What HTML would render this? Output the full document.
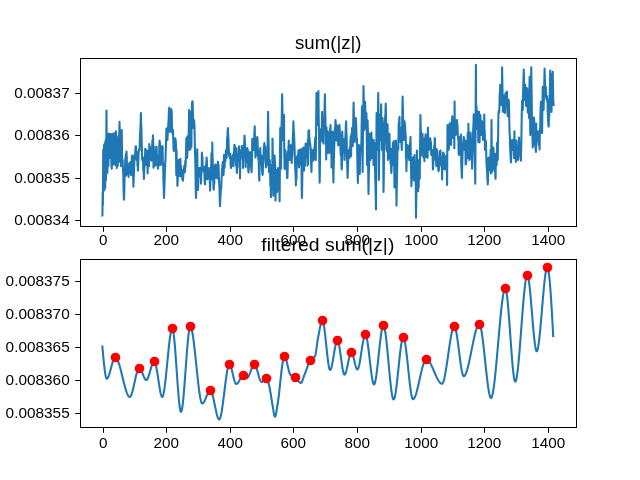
<!DOCTYPE html><html><head><meta charset="utf-8"><title>plot</title><style>
html,body{margin:0;padding:0;background:#fff;}
body{width:640px;height:480px;position:relative;overflow:hidden;font-family:"Liberation Sans",sans-serif;color:#000;}
</style></head><body>
<svg width="640" height="480" viewBox="0 0 640 480" style="position:absolute;left:0;top:0">
<rect x="0" y="0" width="640" height="480" fill="#fff"/>
<defs><clipPath id="c1"><rect x="80.5" y="58.5" width="496" height="168"/></clipPath><clipPath id="c2"><rect x="80.5" y="259.5" width="496" height="168"/></clipPath></defs>
<polyline clip-path="url(#c1)" fill="none" stroke="#1f77b4" stroke-width="2.08" stroke-linejoin="round" stroke-linecap="butt" points="102.40,216.50 102.70,192.00 102.90,205.00 103.20,150.00 103.40,175.57 103.60,191.00 103.80,166.60 104.00,145.00 104.20,167.60 104.40,190.00 104.60,167.72 104.80,143.00 105.00,163.13 105.20,188.00 105.40,164.01 105.60,140.00 105.80,160.00 106.00,180.00 106.25,140.04 106.50,110.60 106.70,143.35 106.90,170.00 107.15,173.05 107.40,172.50 107.65,151.37 107.90,134.00 108.15,149.49 108.40,166.00 108.65,151.27 108.90,133.50 109.15,144.97 109.40,158.00 109.65,145.27 109.90,134.00 110.15,141.14 110.40,157.00 110.65,147.16 110.90,134.00 111.15,149.37 111.40,164.00 111.58,167.20 111.75,168.75 111.97,146.80 112.20,134.00 112.45,154.45 112.70,165.00 112.95,149.71 113.20,133.50 113.45,147.59 113.70,164.00 113.95,155.09 114.20,134.00 114.40,144.86 114.60,156.00 114.80,140.15 115.00,133.00 115.25,147.78 115.50,165.00 115.70,141.26 115.90,131.25 116.15,148.77 116.40,160.00 116.58,162.80 116.75,168.10 116.97,150.82 117.20,138.00 117.45,155.22 117.70,166.00 117.95,146.05 118.20,136.00 118.45,150.61 118.70,162.00 118.97,142.44 119.23,133.28 119.50,121.90 119.75,132.34 120.00,150.00 120.20,146.39 120.40,134.00 120.65,155.30 120.90,166.00 121.10,147.51 121.30,131.00 121.53,132.00 121.75,130.00 121.97,147.46 122.20,166.00 122.40,164.70 122.60,160.00 122.86,166.26 123.12,170.77 123.38,178.44 123.64,192.66 123.90,199.75 124.16,196.86 124.42,184.66 124.68,174.33 124.94,172.25 125.20,160.00 125.46,158.83 125.72,156.20 125.98,153.97 126.24,175.44 126.50,151.50 126.80,158.72 127.10,170.08 127.40,174.00 127.70,164.94 128.00,165.00 128.30,170.65 128.60,176.90 128.83,165.50 129.07,164.81 129.30,163.00 129.53,166.64 129.77,172.40 130.00,172.00 130.30,172.10 130.60,162.00 130.85,173.01 131.10,175.00 131.33,168.70 131.57,163.09 131.80,158.00 132.10,155.50 132.40,156.50 132.65,165.13 132.90,165.71 133.15,176.87 133.40,186.80 133.68,178.09 133.95,174.79 134.22,164.98 134.50,155.00 134.78,154.52 135.06,158.41 135.34,149.94 135.62,146.49 135.90,146.25 136.13,152.92 136.37,154.48 136.60,160.00 136.90,152.46 137.20,152.00 137.47,165.64 137.73,164.51 138.00,170.60 138.27,162.51 138.53,155.20 138.80,151.00 139.07,149.07 139.33,149.54 139.60,150.00 139.86,139.55 140.12,134.38 140.38,128.76 140.64,122.86 140.90,113.10 141.16,123.75 141.42,128.16 141.68,141.79 141.94,150.67 142.20,160.00 142.47,158.05 142.73,157.00 143.00,158.00 143.30,170.24 143.60,170.83 143.90,179.00 144.17,171.05 144.44,166.67 144.71,163.19 144.98,156.97 145.25,148.75 145.51,152.70 145.78,149.53 146.04,161.66 146.30,165.00 146.60,161.12 146.90,160.00 147.13,154.58 147.37,150.81 147.60,173.40 147.88,164.50 148.15,164.72 148.43,151.04 148.70,154.95 148.97,166.29 149.25,144.00 149.57,146.85 149.88,156.47 150.20,155.00 150.50,157.54 150.80,155.86 151.10,160.00 151.42,160.65 151.73,147.13 152.05,149.98 152.37,140.81 152.68,140.34 153.00,135.40 153.25,145.04 153.50,167.76 153.75,146.28 154.00,155.00 154.30,156.24 154.60,152.17 154.90,165.00 155.17,163.11 155.43,165.81 155.70,152.93 155.97,152.27 156.23,146.87 156.50,146.50 156.80,152.45 157.10,164.37 157.40,160.20 157.70,160.13 158.00,168.75 158.27,164.79 158.53,165.74 158.80,155.50 159.07,162.84 159.33,143.76 159.60,140.60 159.90,143.00 160.20,162.82 160.50,165.00 160.75,164.12 161.00,154.95 161.25,160.09 161.50,155.00 161.78,148.10 162.05,146.68 162.32,146.00 162.60,147.00 162.88,165.67 163.16,163.24 163.44,181.01 163.72,187.53 164.00,197.90 164.30,190.77 164.60,180.45 164.90,171.45 165.20,164.57 165.50,158.71 165.80,150.00 166.10,139.36 166.40,128.50 166.63,129.50 166.87,129.50 167.10,128.10 167.30,131.60 167.50,140.00 167.77,132.30 168.03,130.16 168.30,125.00 168.62,119.22 168.93,110.64 169.25,107.50 169.47,114.87 169.68,122.77 169.90,132.00 170.15,126.42 170.40,122.00 170.68,118.97 170.95,118.41 171.22,109.00 171.50,110.00 171.77,113.18 172.03,130.17 172.30,133.00 172.53,132.28 172.77,131.25 173.00,130.00 173.30,141.17 173.60,150.00 173.85,151.00 174.10,149.13 174.35,149.00 174.60,150.00 174.90,150.26 175.20,138.40 175.50,139.40 175.75,140.77 176.00,146.62 176.25,175.06 176.50,150.00 176.80,168.49 177.10,162.66 177.40,186.00 177.70,181.24 178.00,172.04 178.30,175.45 178.60,160.00 178.87,176.19 179.13,172.83 179.40,175.00 179.65,165.54 179.90,173.29 180.15,162.34 180.40,158.75 180.68,176.45 180.95,165.86 181.22,174.29 181.50,172.00 181.78,169.28 182.06,171.86 182.34,179.27 182.62,177.54 182.90,180.60 183.16,178.80 183.42,172.59 183.68,173.65 183.94,171.03 184.20,166.00 184.47,166.29 184.73,168.72 185.00,172.00 185.27,161.08 185.53,166.71 185.80,160.00 186.07,150.74 186.33,138.63 186.60,137.50 186.90,142.44 187.20,158.00 187.50,146.33 187.80,136.00 188.10,145.28 188.40,150.00 188.63,136.22 188.87,123.07 189.10,110.00 189.33,129.89 189.57,139.18 189.80,148.00 190.03,133.15 190.27,149.62 190.50,112.00 190.73,123.51 190.97,139.07 191.20,130.00 191.40,147.23 191.60,112.00 191.85,109.33 192.10,101.86 192.35,104.60 192.60,101.25 192.87,112.96 193.13,118.64 193.40,128.00 193.63,125.12 193.87,126.85 194.10,120.00 194.32,123.25 194.53,129.51 194.75,141.00 195.06,153.56 195.38,165.86 195.69,187.11 196.00,197.90 196.31,186.56 196.62,171.06 196.94,159.96 197.25,149.40 197.50,168.83 197.75,174.34 198.00,190.00 198.30,182.17 198.60,170.00 198.87,168.68 199.13,171.34 199.40,168.00 199.67,171.44 199.93,169.46 200.20,171.43 200.47,177.29 200.73,167.47 201.00,183.75 201.30,171.59 201.60,173.20 201.90,152.50 202.18,155.85 202.45,157.22 202.72,168.03 203.00,170.00 203.25,167.26 203.50,167.00 203.75,171.00 204.00,168.00 204.25,167.00 204.50,177.53 204.75,181.75 205.00,184.40 205.27,172.07 205.53,165.42 205.80,165.19 206.07,176.78 206.33,163.00 206.60,157.50 206.90,160.75 207.20,179.37 207.50,168.87 207.80,172.00 208.05,171.46 208.30,173.34 208.55,172.39 208.80,168.00 209.10,173.66 209.40,179.49 209.70,171.92 210.00,190.60 210.30,184.80 210.60,177.55 210.90,170.82 211.20,165.00 211.46,153.33 211.72,169.07 211.99,179.30 212.25,142.50 212.56,155.83 212.88,166.03 213.19,165.87 213.50,188.75 213.76,189.68 214.02,182.56 214.28,183.64 214.54,167.88 214.80,168.00 215.05,167.30 215.30,164.48 215.55,176.00 215.80,175.00 216.10,177.80 216.40,173.39 216.70,166.86 217.00,168.42 217.30,164.73 217.60,178.57 217.90,161.90 218.18,165.98 218.45,164.10 218.72,170.90 219.00,180.00 219.25,184.97 219.50,188.14 219.75,199.89 220.00,206.25 220.30,199.13 220.60,195.00 220.90,187.21 221.20,188.90 221.50,180.00 221.78,176.36 222.06,169.01 222.34,167.13 222.62,163.40 222.90,161.90 223.20,167.61 223.50,175.00 223.76,171.11 224.02,155.10 224.28,167.71 224.54,167.80 224.80,160.00 225.10,158.39 225.40,161.09 225.70,153.86 226.00,150.00 226.30,152.90 226.60,158.00 226.86,154.41 227.12,137.66 227.38,138.26 227.64,131.86 227.90,128.10 228.15,133.80 228.40,137.88 228.65,144.39 228.90,152.00 229.18,155.88 229.47,154.74 229.75,157.50 230.06,158.65 230.38,153.72 230.69,166.17 231.00,168.00 231.32,166.20 231.63,161.49 231.95,162.29 232.27,159.28 232.58,156.73 232.90,156.00 233.21,154.56 233.52,166.13 233.82,154.46 234.13,149.93 234.44,144.80 234.75,145.00 235.01,148.16 235.28,152.99 235.54,148.26 235.80,160.00 236.08,165.79 236.35,148.33 236.62,168.18 236.90,173.00 237.19,166.00 237.47,167.47 237.76,157.33 238.04,153.85 238.33,154.63 238.61,156.43 238.90,146.25 239.18,155.53 239.45,161.43 239.72,150.51 240.00,178.50 240.30,160.14 240.60,159.49 240.90,154.89 241.20,150.00 241.46,156.63 241.72,146.00 241.99,146.00 242.25,147.00 242.51,150.48 242.78,149.61 243.04,168.07 243.30,160.00 243.60,151.99 243.90,145.45 244.20,145.08 244.50,135.60 244.80,138.98 245.10,146.15 245.40,154.79 245.70,166.94 246.00,158.00 246.32,159.68 246.63,156.10 246.95,150.92 247.27,148.11 247.58,161.49 247.90,150.00 248.20,169.76 248.50,172.50 248.80,167.68 249.10,166.18 249.40,154.41 249.70,157.90 250.00,152.00 250.27,159.25 250.53,156.07 250.80,154.54 251.07,162.13 251.33,169.99 251.60,172.25 251.82,165.06 252.03,157.61 252.25,138.75 252.56,142.31 252.88,147.06 253.19,148.87 253.50,150.00 253.81,146.44 254.12,139.95 254.44,131.33 254.75,126.25 254.97,138.90 255.18,147.32 255.40,157.50 255.67,155.56 255.93,143.63 256.20,140.00 256.46,138.38 256.72,139.64 256.98,154.78 257.24,137.00 257.50,138.00 257.80,149.13 258.10,153.57 258.40,160.00 258.65,159.42 258.90,170.23 259.15,178.21 259.40,180.60 259.68,150.48 259.97,163.24 260.25,148.00 260.57,159.38 260.88,157.69 261.20,165.00 261.46,155.79 261.72,160.57 261.98,170.16 262.24,172.36 262.50,175.00 262.75,174.23 263.00,164.32 263.25,162.45 263.50,155.00 263.80,147.08 264.10,145.62 264.40,143.00 264.70,147.61 265.00,152.58 265.30,146.63 265.60,160.80 265.90,167.50 266.20,161.43 266.50,151.00 266.77,165.44 267.03,162.63 267.30,165.00 267.57,150.48 267.83,131.97 268.10,111.90 268.40,135.91 268.70,147.60 269.00,172.00 269.27,164.32 269.53,163.49 269.80,160.00 270.07,172.68 270.35,185.55 270.62,174.91 270.90,197.25 271.20,189.27 271.50,175.22 271.80,165.00 272.03,169.89 272.27,181.74 272.50,138.75 272.77,151.27 273.05,159.76 273.33,195.66 273.60,190.00 273.85,187.22 274.10,179.62 274.35,163.97 274.60,155.60 274.90,161.96 275.20,166.09 275.50,200.60 275.75,190.61 276.00,179.51 276.25,181.03 276.50,170.00 276.73,178.44 276.97,176.52 277.20,192.00 277.47,187.81 277.73,183.24 278.00,168.00 278.27,169.52 278.53,178.26 278.80,179.69 279.07,185.78 279.33,183.80 279.60,201.25 279.82,177.48 280.03,150.51 280.25,128.00 280.47,132.58 280.68,155.02 280.90,168.75 281.20,151.26 281.50,130.00 281.80,115.56 282.10,94.40 282.40,107.57 282.70,122.87 283.00,140.00 283.25,132.62 283.50,130.01 283.75,118.25 284.00,115.00 284.30,155.38 284.60,169.00 284.82,157.55 285.03,162.80 285.25,150.00 285.57,151.70 285.88,155.91 286.20,165.00 286.50,168.67 286.80,170.24 287.10,178.00 287.40,178.00 287.67,169.98 287.94,151.57 288.21,159.69 288.48,148.62 288.75,140.60 289.01,154.14 289.27,145.76 289.54,154.56 289.80,160.00 290.07,152.10 290.35,149.30 290.62,146.39 290.90,145.00 291.17,147.55 291.43,156.07 291.70,163.00 291.97,155.02 292.23,156.65 292.50,150.00 292.80,138.18 293.10,133.99 293.40,121.25 293.70,130.34 294.00,133.02 294.30,140.53 294.60,148.75 294.86,157.83 295.12,163.86 295.38,171.54 295.64,174.36 295.90,185.40 296.16,162.83 296.42,179.81 296.68,166.62 296.94,156.32 297.20,160.00 297.50,157.80 297.80,159.57 298.10,156.26 298.40,150.60 298.70,160.43 299.00,167.50 299.32,149.84 299.63,162.82 299.95,164.06 300.27,164.47 300.58,158.84 300.90,155.00 301.15,164.15 301.40,149.03 301.65,185.55 301.90,198.00 302.20,186.11 302.50,165.89 302.80,170.57 303.10,163.59 303.40,147.50 303.70,156.37 304.00,170.60 304.32,163.43 304.63,162.10 304.95,165.72 305.27,151.60 305.58,143.46 305.90,143.75 306.17,148.62 306.45,155.99 306.73,158.06 307.00,158.00 307.28,154.49 307.56,165.72 307.84,139.77 308.12,163.65 308.40,131.00 308.71,133.33 309.02,130.25 309.32,136.80 309.63,139.28 309.94,142.79 310.25,143.75 310.56,147.17 310.88,154.30 311.19,166.17 311.50,171.90 311.80,149.82 312.10,150.00 312.38,150.59 312.66,152.79 312.94,160.63 313.22,156.83 313.50,160.00 313.79,158.92 314.08,151.33 314.38,147.73 314.67,147.57 314.96,141.25 315.25,137.50 315.52,145.86 315.80,160.00 316.03,133.39 316.27,113.15 316.50,93.00 316.73,103.99 316.97,114.50 317.20,125.00 317.50,116.00 317.80,105.95 318.10,98.96 318.40,91.00 318.70,116.48 319.00,133.57 319.30,159.90 319.60,182.75 319.85,173.69 320.10,138.51 320.35,136.19 320.60,130.00 320.83,141.18 321.07,129.00 321.30,140.00 321.57,130.79 321.83,126.71 322.10,111.90 322.40,126.68 322.70,126.25 323.00,142.18 323.30,138.89 323.60,143.75 323.86,130.29 324.12,123.04 324.38,117.02 324.64,105.13 324.90,94.40 325.13,107.37 325.37,117.27 325.60,130.00 325.90,126.50 326.20,159.45 326.50,127.50 326.80,143.41 327.10,153.00 327.38,150.66 327.66,131.47 327.94,145.09 328.22,142.17 328.50,140.00 328.75,133.73 329.00,141.14 329.25,153.20 329.50,135.00 329.75,133.50 330.00,129.06 330.25,130.69 330.50,125.00 330.75,137.51 331.00,141.15 331.25,131.95 331.50,167.50 331.77,161.48 332.03,147.16 332.30,140.00 332.57,152.73 332.85,131.56 333.12,170.91 333.40,182.50 333.67,167.97 333.95,157.89 334.23,147.40 334.50,140.00 334.75,141.00 335.00,128.90 335.25,126.79 335.50,120.00 335.75,123.61 336.00,131.63 336.25,134.29 336.50,140.00 336.77,140.54 337.05,133.50 337.33,125.59 337.60,128.00 337.90,129.43 338.20,145.40 338.50,145.00 338.75,128.23 339.00,137.28 339.25,133.18 339.50,124.75 339.75,130.17 340.00,136.46 340.25,142.23 340.50,150.00 340.81,155.34 341.12,135.60 341.44,164.95 341.75,169.40 342.00,164.77 342.25,131.63 342.50,140.00 342.75,147.55 343.00,149.81 343.25,138.75 343.56,144.98 343.88,152.52 344.19,141.58 344.50,160.00 344.73,156.54 344.97,149.93 345.20,140.00 345.50,135.11 345.80,127.14 346.10,121.25 346.40,131.57 346.70,138.82 347.00,158.19 347.30,168.09 347.60,178.00 347.85,170.86 348.10,163.94 348.35,154.64 348.60,150.00 348.90,155.33 349.20,156.54 349.50,158.00 349.75,154.95 350.00,147.82 350.25,145.81 350.50,140.00 350.80,136.57 351.10,156.12 351.40,133.82 351.70,143.53 352.00,128.00 352.27,135.02 352.53,140.88 352.80,146.00 353.07,128.65 353.33,117.14 353.60,102.50 353.90,115.10 354.20,125.44 354.50,134.70 354.80,142.00 355.12,133.55 355.43,124.99 355.75,118.00 356.06,122.19 356.38,130.15 356.69,139.56 357.00,138.75 357.30,157.72 357.60,173.01 357.90,183.00 358.15,161.37 358.40,153.13 358.65,156.14 358.90,145.00 359.20,153.68 359.50,173.75 359.75,174.03 360.00,160.46 360.25,152.03 360.50,150.00 360.80,149.07 361.10,145.98 361.40,142.50 361.70,122.60 362.00,106.25 362.30,137.07 362.60,171.90 362.90,140.82 363.20,115.91 363.50,86.00 363.77,97.57 364.03,129.94 364.30,130.00 364.57,106.72 364.83,118.56 365.10,101.90 365.33,108.76 365.57,114.86 365.80,128.00 366.10,117.71 366.40,113.00 366.70,126.84 367.00,165.00 367.30,146.35 367.60,120.60 367.90,129.91 368.20,170.78 368.50,194.00 368.75,177.87 369.00,169.28 369.25,160.28 369.50,133.75 369.80,144.32 370.10,147.76 370.40,160.00 370.65,153.83 370.90,142.81 371.15,140.33 371.40,132.50 371.70,157.87 372.00,138.73 372.30,147.03 372.60,153.75 372.90,157.56 373.20,146.39 373.50,165.00 373.75,139.92 374.00,156.99 374.25,142.86 374.50,150.00 374.80,162.53 375.10,172.08 375.40,183.33 375.70,195.45 376.00,209.40 376.30,154.30 376.60,113.00 376.87,146.03 377.13,118.11 377.40,150.00 377.68,133.82 377.97,110.69 378.25,93.10 378.47,121.07 378.68,129.07 378.90,180.00 379.20,157.53 379.50,140.37 379.80,115.00 380.10,127.56 380.40,140.00 380.63,125.64 380.87,115.29 381.10,104.40 381.40,119.38 381.70,119.55 382.00,150.00 382.25,123.80 382.50,118.13 382.75,132.83 383.00,123.75 383.25,157.35 383.50,191.90 383.77,179.26 384.05,152.27 384.33,141.90 384.60,125.00 384.89,119.85 385.18,116.75 385.46,112.64 385.75,103.50 386.03,115.22 386.32,135.67 386.60,150.00 386.85,131.95 387.10,151.52 387.35,134.73 387.60,124.40 387.90,160.05 388.20,137.39 388.50,155.00 388.75,143.71 389.00,146.56 389.25,153.67 389.50,133.75 389.80,158.43 390.10,151.42 390.40,160.00 390.65,164.16 390.90,148.80 391.15,170.93 391.40,173.00 391.70,164.90 392.00,155.45 392.30,150.00 392.62,152.95 392.93,142.44 393.25,155.00 393.56,164.99 393.88,141.10 394.19,161.19 394.50,187.50 394.80,175.96 395.10,169.20 395.40,150.00 395.70,154.69 396.00,140.60 396.25,173.75 396.50,205.60 396.75,189.82 397.00,177.03 397.25,165.11 397.50,150.00 397.75,149.33 398.00,146.07 398.25,149.63 398.50,135.00 398.75,122.83 399.00,125.78 399.25,119.07 399.50,116.90 399.77,141.61 400.03,129.79 400.30,140.00 400.53,137.37 400.77,131.63 401.00,128.00 401.27,136.25 401.53,143.66 401.80,150.00 402.07,130.64 402.33,113.63 402.60,96.60 402.90,108.00 403.20,121.42 403.50,140.00 403.75,125.25 404.00,139.82 404.25,122.00 404.50,121.25 404.81,124.35 405.12,126.71 405.44,133.34 405.75,136.25 405.97,158.10 406.18,146.21 406.40,171.25 406.70,160.31 407.00,151.97 407.30,145.00 407.62,146.55 407.93,145.71 408.25,150.00 408.51,149.43 408.77,155.09 409.04,158.61 409.30,160.00 409.60,148.53 409.90,143.77 410.20,148.08 410.50,136.90 410.80,156.93 411.10,171.59 411.40,186.25 411.67,181.28 411.95,174.10 412.23,158.51 412.50,160.00 412.75,159.00 413.00,157.23 413.25,162.79 413.50,165.00 413.75,173.02 414.00,180.56 414.25,162.27 414.50,155.00 414.77,174.97 415.03,162.05 415.30,170.00 415.53,171.01 415.77,184.29 416.00,217.75 416.30,196.55 416.60,181.98 416.90,150.60 417.13,172.98 417.37,177.13 417.60,190.00 417.85,190.28 418.10,191.25 418.40,170.08 418.70,187.81 419.00,160.00 419.25,167.52 419.50,172.98 419.75,178.75 419.97,159.65 420.18,138.21 420.40,115.00 420.65,125.90 420.90,131.12 421.15,155.67 421.40,150.00 421.67,142.65 421.95,141.99 422.23,136.68 422.50,133.75 422.81,149.02 423.12,140.57 423.44,157.43 423.75,146.25 423.97,151.99 424.18,138.45 424.40,161.25 424.70,144.03 425.00,152.36 425.30,139.96 425.60,134.40 425.85,156.69 426.10,135.50 426.35,143.53 426.60,148.00 426.86,157.29 427.12,138.20 427.38,139.26 427.64,157.77 427.90,127.50 428.15,134.72 428.40,139.09 428.65,143.12 428.90,150.00 429.17,145.17 429.45,143.25 429.73,142.23 430.00,138.75 430.30,138.33 430.60,147.04 430.90,141.91 431.20,155.00 431.46,154.89 431.72,153.76 431.98,151.18 432.24,153.50 432.50,150.00 432.70,160.62 432.90,169.40 433.17,166.53 433.45,160.81 433.73,158.41 434.00,150.00 434.25,145.38 434.50,157.46 434.75,138.16 435.00,139.00 435.25,159.37 435.50,152.67 435.75,151.66 436.00,158.00 436.30,165.95 436.60,149.01 436.90,150.00 437.17,153.19 437.43,158.46 437.70,160.08 437.97,165.55 438.23,168.52 438.50,171.25 438.80,169.64 439.10,168.65 439.40,162.52 439.70,150.95 440.00,155.00 440.25,159.45 440.50,150.43 440.75,164.10 441.00,165.00 441.27,156.55 441.55,165.67 441.83,160.40 442.10,179.40 442.35,167.10 442.60,156.23 442.85,160.40 443.10,152.50 443.38,152.59 443.66,166.36 443.94,153.96 444.22,169.14 444.50,165.00 444.75,162.56 445.00,157.04 445.25,161.12 445.50,158.00 445.75,162.11 446.00,169.60 446.25,155.43 446.50,170.00 446.80,161.97 447.10,185.00 447.30,154.72 447.50,125.00 447.77,128.78 448.05,125.23 448.33,148.80 448.60,150.00 448.88,147.78 449.16,127.18 449.44,143.95 449.72,123.40 450.00,136.25 450.25,141.73 450.50,128.99 450.75,140.20 451.00,145.00 451.31,137.28 451.62,121.99 451.94,120.89 452.25,116.25 452.57,126.43 452.88,123.34 453.20,138.00 453.48,124.97 453.76,133.05 454.04,124.05 454.32,148.24 454.60,101.50 454.85,133.67 455.10,120.29 455.35,129.17 455.60,135.00 455.86,132.85 456.12,125.64 456.38,128.34 456.64,131.49 456.90,120.00 457.20,122.83 457.50,125.36 457.80,135.27 458.10,137.50 458.40,140.35 458.70,153.52 459.00,155.00 459.25,137.14 459.50,143.11 459.75,139.87 460.00,137.50 460.32,140.95 460.63,153.13 460.95,134.42 461.27,163.78 461.58,171.28 461.90,178.00 462.20,164.59 462.50,156.31 462.80,145.00 463.12,143.06 463.43,141.33 463.75,136.90 464.03,138.58 464.32,143.15 464.60,150.00 464.85,149.00 465.10,150.08 465.35,140.77 465.60,164.40 465.90,160.67 466.20,163.69 466.50,150.86 466.80,148.00 467.07,142.05 467.33,143.71 467.60,135.42 467.87,132.66 468.13,158.28 468.40,123.75 468.65,137.69 468.90,143.06 469.15,149.34 469.40,160.00 469.70,153.77 470.00,138.75 470.30,144.07 470.60,132.50 470.87,141.37 471.13,150.29 471.40,150.00 471.63,159.81 471.87,139.35 472.10,168.75 472.40,158.20 472.70,147.37 473.00,135.00 473.25,128.40 473.50,122.53 473.75,114.40 474.00,120.61 474.25,126.11 474.50,135.00 474.75,152.44 475.00,167.04 475.25,183.75 475.47,146.54 475.68,104.66 475.90,64.90 476.20,128.98 476.50,106.49 476.80,125.00 477.07,119.73 477.33,111.00 477.60,112.00 477.83,119.91 478.07,127.84 478.30,142.00 478.53,137.23 478.77,122.02 479.00,111.75 479.30,127.45 479.60,142.50 479.87,119.77 480.13,121.73 480.40,115.00 480.67,122.51 480.93,129.69 481.20,135.00 481.50,131.63 481.80,124.18 482.10,121.25 482.40,128.15 482.70,131.69 483.00,140.00 483.25,136.40 483.50,123.31 483.75,137.11 484.00,133.75 484.25,114.61 484.50,135.51 484.75,130.29 485.00,150.00 485.30,142.62 485.60,140.49 485.90,141.25 486.20,151.98 486.50,163.75 486.81,167.81 487.12,170.84 487.44,178.60 487.75,184.40 488.06,176.60 488.38,158.20 488.69,163.76 489.00,157.50 489.27,159.79 489.53,165.78 489.80,170.00 490.07,162.88 490.33,164.43 490.60,150.00 490.90,173.52 491.20,165.53 491.50,120.00 491.80,158.40 492.10,171.67 492.40,165.00 492.65,156.21 492.90,154.60 493.15,157.03 493.40,147.50 493.65,152.00 493.90,161.10 494.15,164.22 494.40,170.00 494.70,170.91 495.00,154.02 495.30,176.84 495.60,178.75 495.90,153.71 496.20,158.11 496.50,165.35 496.80,161.36 497.10,142.50 497.32,148.44 497.53,151.56 497.75,160.00 497.97,144.89 498.18,130.70 498.40,114.40 498.67,111.00 498.93,113.34 499.20,112.00 499.46,105.11 499.73,93.77 499.99,91.77 500.25,84.90 500.47,88.71 500.68,94.71 500.90,105.00 501.20,94.43 501.50,85.00 501.80,104.92 502.10,67.40 502.40,85.01 502.70,99.74 503.00,112.00 503.25,111.33 503.50,96.50 503.75,98.87 504.00,95.50 504.25,98.87 504.50,104.68 504.75,102.84 505.00,113.00 505.27,103.95 505.53,93.10 505.80,100.00 506.12,96.79 506.43,96.75 506.75,97.75 507.00,91.48 507.25,106.17 507.50,111.99 507.75,116.25 508.06,114.53 508.38,109.93 508.69,99.67 509.00,104.90 509.30,121.12 509.60,133.75 509.86,135.45 510.12,146.42 510.38,152.01 510.64,157.08 510.90,162.50 511.20,157.78 511.50,150.03 511.80,145.57 512.10,140.00 512.40,145.17 512.70,147.84 513.00,150.00 513.28,140.02 513.56,141.76 513.84,140.36 514.12,158.10 514.40,131.25 514.70,148.20 515.00,146.35 515.30,149.72 515.60,153.57 515.90,161.90 516.20,140.46 516.50,152.50 516.77,146.81 517.05,159.94 517.33,156.07 517.60,158.00 517.88,153.52 518.16,159.82 518.44,146.74 518.72,140.75 519.00,137.50 519.25,144.08 519.50,142.74 519.75,143.19 520.00,155.00 520.30,154.44 520.60,156.50 520.90,160.60 521.20,148.00 521.50,131.68 521.80,111.98 522.10,100.50 522.33,106.42 522.57,104.35 522.80,110.00 523.12,92.09 523.43,80.63 523.75,69.50 523.97,77.49 524.18,91.61 524.40,100.00 524.68,87.13 524.97,87.43 525.25,84.90 525.50,92.62 525.75,96.31 526.00,106.00 526.27,101.89 526.53,93.36 526.80,88.00 527.12,96.50 527.43,97.80 527.75,112.50 527.97,104.48 528.18,98.20 528.40,89.25 528.70,104.67 529.00,118.00 529.30,95.61 529.60,76.75 529.83,92.16 530.07,116.61 530.30,135.00 530.62,116.81 530.93,92.97 531.25,67.40 531.50,84.29 531.75,104.30 532.00,120.00 532.25,130.14 532.50,136.71 532.75,147.50 533.06,137.20 533.38,141.55 533.69,124.63 534.00,117.50 534.25,122.08 534.50,144.45 534.75,136.92 535.00,140.00 535.30,146.16 535.60,148.04 535.90,152.00 536.20,123.45 536.50,141.82 536.80,135.00 537.12,132.95 537.43,136.00 537.75,131.25 538.03,137.83 538.32,139.34 538.60,145.00 538.85,136.73 539.10,140.08 539.35,146.71 539.60,149.40 539.86,129.30 540.12,131.39 540.38,116.54 540.64,108.76 540.90,101.75 541.20,104.20 541.50,120.00 541.80,132.93 542.10,133.00 542.32,114.59 542.53,99.58 542.75,86.75 543.03,91.04 543.32,100.32 543.60,110.00 543.85,98.53 544.10,91.14 544.35,79.40 544.60,68.60 544.83,77.72 545.07,83.09 545.30,93.00 545.55,89.78 545.80,87.00 546.10,96.65 546.40,99.00 546.70,97.43 547.00,96.00 547.23,101.58 547.47,99.24 547.70,110.00 547.93,116.75 548.17,121.17 548.40,125.60 548.67,126.60 548.93,116.50 549.20,117.50 549.40,108.82 549.60,100.00 549.82,89.78 550.03,80.56 550.25,70.50 550.48,87.33 550.70,108.00 550.90,91.59 551.10,74.00 551.30,95.07 551.50,112.00 551.70,93.59 551.90,75.00 552.10,88.57 552.30,104.00 552.52,87.19 552.75,71.75 552.98,84.66 553.20,100.00 553.45,103.07 553.70,106.00"/>
<polyline clip-path="url(#c2)" fill="none" stroke="#1f77b4" stroke-width="2.08" stroke-linejoin="round" stroke-linecap="butt" points="102.25,345.50 102.75,350.91 103.25,356.23 103.75,361.32 104.25,366.03 104.75,370.22 105.25,373.73 105.75,376.42 106.25,378.14 106.75,378.75 107.25,378.54 107.75,377.94 108.25,377.00 108.75,375.78 109.25,374.32 109.75,372.68 110.25,370.91 110.75,369.06 111.25,367.18 111.75,365.32 112.25,363.54 112.75,361.89 113.25,360.41 113.75,359.16 114.25,358.19 114.75,357.55 115.25,357.30 115.75,357.41 116.25,357.79 116.75,358.42 117.25,359.27 117.75,360.34 118.25,361.59 118.75,363.01 119.25,364.58 119.75,366.28 120.25,368.08 120.75,369.98 121.25,371.95 121.75,373.97 122.25,376.02 122.75,378.08 123.25,380.13 123.75,382.15 124.25,384.12 124.75,386.03 125.25,387.85 125.75,389.56 126.25,391.14 126.75,392.58 127.25,393.85 127.75,394.93 128.25,395.81 128.75,396.46 129.25,396.86 129.75,397.00 130.25,396.77 130.75,396.11 131.25,395.08 131.75,393.72 132.25,392.08 132.75,390.21 133.25,388.17 133.75,386.00 134.25,383.75 134.75,381.48 135.25,379.22 135.75,377.04 136.25,374.98 136.75,373.10 137.25,371.44 137.75,370.04 138.25,368.97 138.75,368.28 139.25,368.00 139.75,368.14 140.25,368.61 140.75,369.35 141.25,370.30 141.75,371.42 142.25,372.65 142.75,373.94 143.25,375.22 143.75,376.46 144.25,377.59 144.75,378.56 145.25,379.33 145.75,379.82 146.25,380.00 146.75,379.79 147.25,379.21 147.75,378.29 148.25,377.11 148.75,375.71 149.25,374.14 149.75,372.47 150.25,370.74 150.75,369.00 151.25,367.32 151.75,365.74 152.25,364.32 152.75,363.11 153.25,362.17 153.75,361.55 154.25,361.30 154.75,361.63 155.25,362.71 155.75,364.43 156.25,366.69 156.75,369.38 157.25,372.40 157.75,375.63 158.25,378.98 158.75,382.33 159.25,385.59 159.75,388.63 160.25,391.36 160.75,393.67 161.25,395.45 161.75,396.59 162.25,397.00 162.75,396.51 163.25,395.09 163.75,392.87 164.25,389.92 164.75,386.36 165.25,382.29 165.75,377.81 166.25,373.01 166.75,368.01 167.25,362.91 167.75,357.79 168.25,352.78 168.75,347.96 169.25,343.44 169.75,339.32 170.25,335.71 170.75,332.70 171.25,330.39 171.75,328.89 172.25,328.31 172.75,328.95 173.25,331.08 173.75,334.50 174.25,339.03 174.75,344.47 175.25,350.64 175.75,357.35 176.25,364.39 176.75,371.59 177.25,378.75 177.75,385.69 178.25,392.20 178.75,398.10 179.25,403.20 179.75,407.31 180.25,410.24 180.75,411.80 181.25,411.82 181.75,410.42 182.25,407.77 182.75,404.04 183.25,399.38 183.75,393.95 184.25,387.92 184.75,381.43 185.25,374.67 185.75,367.77 186.25,360.90 186.75,354.23 187.25,347.91 187.75,342.10 188.25,336.96 188.75,332.65 189.25,329.33 189.75,327.16 190.25,326.31 190.75,326.62 191.25,327.69 191.75,329.43 192.25,331.80 192.75,334.70 193.25,338.09 193.75,341.89 194.25,346.03 194.75,350.44 195.25,355.06 195.75,359.83 196.25,364.66 196.75,369.49 197.25,374.26 197.75,378.90 198.25,383.34 198.75,387.51 199.25,391.35 199.75,394.78 200.25,397.74 200.75,400.16 201.25,401.97 201.75,403.11 202.25,403.50 202.75,403.35 203.25,402.94 203.75,402.30 204.25,401.46 204.75,400.47 205.25,399.37 205.75,398.18 206.25,396.96 206.75,395.74 207.25,394.55 207.75,393.43 208.25,392.43 208.75,391.58 209.25,390.92 209.75,390.48 210.25,390.30 210.75,390.51 211.25,391.22 211.75,392.35 212.25,393.85 212.75,395.67 213.25,397.73 213.75,399.97 214.25,402.34 214.75,404.78 215.25,407.22 215.75,409.60 216.25,411.86 216.75,413.94 217.25,415.78 217.75,417.31 218.25,418.49 218.75,419.24 219.25,419.50 219.75,419.11 220.25,418.00 220.75,416.25 221.25,413.93 221.75,411.12 222.25,407.90 222.75,404.36 223.25,400.57 223.75,396.61 224.25,392.56 224.75,388.50 225.25,384.50 225.75,380.65 226.25,377.03 226.75,373.71 227.25,370.77 227.75,368.29 228.25,366.36 228.75,365.05 229.25,364.44 229.75,364.55 230.25,365.23 230.75,366.38 231.25,367.92 231.75,369.74 232.25,371.76 232.75,373.88 233.25,376.01 233.75,378.07 234.25,379.96 234.75,381.59 235.25,382.87 235.75,383.70 236.25,384.00 236.75,383.88 237.25,383.54 237.75,383.01 238.25,382.34 238.75,381.55 239.25,380.69 239.75,379.79 240.25,378.88 240.75,378.00 241.25,377.19 241.75,376.48 242.25,375.90 242.75,375.50 243.25,375.31 243.75,375.38 244.25,375.70 244.75,376.20 245.25,376.77 245.75,377.32 246.25,377.76 246.75,377.99 247.25,377.91 247.75,377.52 248.25,376.84 248.75,375.93 249.25,374.83 249.75,373.60 250.25,372.28 250.75,370.93 251.25,369.58 251.75,368.29 252.25,367.11 252.75,366.09 253.25,365.26 253.75,364.69 254.25,364.42 254.75,364.52 255.25,365.08 255.75,366.02 256.25,367.29 256.75,368.80 257.25,370.49 257.75,372.28 258.25,374.12 258.75,375.91 259.25,377.60 259.75,379.11 260.25,380.38 260.75,381.32 261.25,381.88 261.75,381.99 262.25,381.83 262.75,381.50 263.25,381.05 263.75,380.53 264.25,379.98 264.75,379.45 265.25,378.98 265.75,378.63 266.25,378.43 266.75,378.50 267.25,379.25 267.75,380.52 268.25,382.09 268.75,383.75 269.25,385.70 269.75,388.21 270.25,391.12 270.75,394.27 271.25,397.52 271.75,400.70 272.25,403.65 272.75,406.38 273.25,409.49 273.75,412.62 274.25,415.22 274.75,416.78 275.25,416.79 275.75,415.28 276.25,412.73 276.75,409.63 277.25,406.46 277.75,403.53 278.25,400.10 278.75,396.15 279.25,391.80 279.75,387.20 280.25,382.48 280.75,377.77 281.25,373.20 281.75,368.92 282.25,365.06 282.75,361.74 283.25,359.11 283.75,357.31 284.25,356.45 284.75,356.56 285.25,357.27 285.75,358.46 286.25,360.05 286.75,361.91 287.25,363.97 287.75,366.11 288.25,368.23 288.75,370.24 289.25,372.03 289.75,373.50 290.25,374.56 290.75,375.13 291.25,375.49 291.75,375.79 292.25,376.04 292.75,376.26 293.25,376.46 293.75,376.66 294.25,376.87 294.75,377.11 295.25,377.40 295.75,377.77 296.25,378.26 296.75,378.84 297.25,379.47 297.75,380.14 298.25,380.79 298.75,381.42 299.25,381.97 299.75,382.42 300.25,382.74 300.75,382.89 301.25,382.75 301.75,382.09 302.25,381.03 302.75,379.69 303.25,378.21 303.75,376.72 304.25,375.36 304.75,374.16 305.25,372.88 305.75,371.53 306.25,370.14 306.75,368.73 307.25,367.33 307.75,365.97 308.25,364.67 308.75,363.46 309.25,362.36 309.75,361.40 310.25,360.60 310.75,359.99 311.25,359.51 311.75,359.13 312.25,358.81 312.75,358.50 313.25,358.17 313.75,357.78 314.25,357.28 314.75,356.64 315.25,355.65 315.75,353.45 316.25,350.29 316.75,346.61 317.25,342.85 317.75,339.44 318.25,336.76 318.75,334.17 319.25,331.49 319.75,328.84 320.25,326.34 320.75,324.13 321.25,322.32 321.75,321.05 322.25,320.44 322.75,320.70 323.25,322.08 323.75,324.44 324.25,327.61 324.75,331.44 325.25,335.75 325.75,340.40 326.25,345.20 326.75,350.00 327.25,354.65 327.75,358.96 328.25,362.79 328.75,365.96 329.25,368.32 329.75,369.70 330.25,369.96 330.75,369.34 331.25,368.03 331.75,366.15 332.25,363.81 332.75,361.13 333.25,358.22 333.75,355.20 334.25,352.18 334.75,349.27 335.25,346.59 335.75,344.25 336.25,342.37 336.75,341.06 337.25,340.44 337.75,340.64 338.25,341.76 338.75,343.65 339.25,346.17 339.75,349.19 340.25,352.54 340.75,356.10 341.25,359.72 341.75,363.25 342.25,366.55 342.75,369.48 343.25,371.88 343.75,373.63 344.25,374.58 344.75,374.61 345.25,373.97 345.75,372.77 346.25,371.12 346.75,369.13 347.25,366.90 347.75,364.52 348.25,362.10 348.75,359.74 349.25,357.55 349.75,355.62 350.25,354.05 350.75,352.96 351.25,352.43 351.75,352.57 352.25,353.33 352.75,354.61 353.25,356.27 353.75,358.21 354.25,360.31 354.75,362.44 355.25,364.49 355.75,366.33 356.25,367.86 356.75,368.94 357.25,369.47 357.75,369.30 358.25,368.40 358.75,366.84 359.25,364.74 359.75,362.19 360.25,359.31 360.75,356.19 361.25,352.94 361.75,349.65 362.25,346.44 362.75,343.40 363.25,340.64 363.75,338.26 364.25,336.37 364.75,335.06 365.25,334.44 365.75,334.64 366.25,335.77 366.75,337.72 367.25,340.36 367.75,343.58 368.25,347.26 368.75,351.28 369.25,355.53 369.75,359.89 370.25,364.23 370.75,368.44 371.25,372.41 371.75,376.01 372.25,379.12 372.75,381.63 373.25,383.42 373.75,384.38 374.25,384.38 374.75,383.43 375.25,381.64 375.75,379.11 376.25,375.95 376.75,372.26 377.25,368.16 377.75,363.75 378.25,359.14 378.75,354.43 379.25,349.73 379.75,345.15 380.25,340.79 380.75,336.76 381.25,333.17 381.75,330.13 382.25,327.74 382.75,326.11 383.25,325.34 383.75,325.56 384.25,326.76 384.75,328.86 385.25,331.74 385.75,335.30 386.25,339.44 386.75,344.05 387.25,349.03 387.75,354.28 388.25,359.67 388.75,365.13 389.25,370.52 389.75,375.77 390.25,380.75 390.75,385.36 391.25,389.50 391.75,393.06 392.25,395.94 392.75,398.04 393.25,399.24 393.75,399.46 394.25,398.70 394.75,397.08 395.25,394.71 395.75,391.69 396.25,388.11 396.75,384.08 397.25,379.71 397.75,375.09 398.25,370.32 398.75,365.52 399.25,360.77 399.75,356.20 400.25,351.88 400.75,347.94 401.25,344.46 401.75,341.56 402.25,339.33 402.75,337.88 403.25,337.30 403.75,337.69 404.25,338.97 404.75,341.04 405.25,343.80 405.75,347.16 406.25,351.00 406.75,355.24 407.25,359.75 407.75,364.45 408.25,369.23 408.75,373.99 409.25,378.63 409.75,383.05 410.25,387.14 410.75,390.80 411.25,393.93 411.75,396.43 412.25,398.20 412.75,399.13 413.25,399.21 413.75,398.88 414.25,398.26 414.75,397.36 415.25,396.21 415.75,394.83 416.25,393.26 416.75,391.51 417.25,389.62 417.75,387.60 418.25,385.49 418.75,383.31 419.25,381.08 419.75,378.82 420.25,376.58 420.75,374.36 421.25,372.21 421.75,370.13 422.25,368.16 422.75,366.32 423.25,364.64 423.75,363.14 424.25,361.85 424.75,360.80 425.25,360.01 425.75,359.50 426.25,359.30 426.75,359.36 427.25,359.56 427.75,359.89 428.25,360.34 428.75,360.90 429.25,361.57 429.75,362.32 430.25,363.16 430.75,364.08 431.25,365.06 431.75,366.09 432.25,367.17 432.75,368.29 433.25,369.43 433.75,370.59 434.25,371.76 434.75,372.92 435.25,374.08 435.75,375.21 436.25,376.31 436.75,377.38 437.25,378.39 437.75,379.35 438.25,380.23 438.75,381.04 439.25,381.76 439.75,382.39 440.25,382.91 440.75,383.31 441.25,383.59 441.75,383.73 442.25,383.68 442.75,383.14 443.25,382.09 443.75,380.59 444.25,378.69 444.75,376.42 445.25,373.84 445.75,370.99 446.25,367.91 446.75,364.66 447.25,361.29 447.75,357.82 448.25,354.32 448.75,350.83 449.25,347.40 449.75,344.07 450.25,340.88 450.75,337.89 451.25,335.15 451.75,332.68 452.25,330.56 452.75,328.81 453.25,327.48 453.75,326.63 454.25,326.30 454.75,326.63 455.25,327.71 455.75,329.47 456.25,331.80 456.75,334.63 457.25,337.86 457.75,341.41 458.25,345.19 458.75,349.10 459.25,353.06 459.75,356.98 460.25,360.77 460.75,364.34 461.25,367.61 461.75,370.49 462.25,372.87 462.75,374.69 463.25,375.85 463.75,376.25 464.25,376.09 464.75,375.63 465.25,374.89 465.75,373.89 466.25,372.65 466.75,371.20 467.25,369.54 467.75,367.71 468.25,365.72 468.75,363.59 469.25,361.35 469.75,359.02 470.25,356.61 470.75,354.15 471.25,351.65 471.75,349.15 472.25,346.65 472.75,344.19 473.25,341.77 473.75,339.43 474.25,337.18 474.75,335.04 475.25,333.04 475.75,331.19 476.25,329.51 476.75,328.03 477.25,326.77 477.75,325.75 478.25,324.98 478.75,324.49 479.25,324.30 479.75,324.62 480.25,325.68 480.75,327.42 481.25,329.76 481.75,332.64 482.25,335.99 482.75,339.75 483.25,343.83 483.75,348.17 484.25,352.71 484.75,357.38 485.25,362.09 485.75,366.80 486.25,371.42 486.75,375.89 487.25,380.14 487.75,384.10 488.25,387.70 488.75,390.87 489.25,393.55 489.75,395.66 490.25,397.13 490.75,397.90 491.25,397.90 491.75,397.13 492.25,395.63 492.75,393.47 493.25,390.71 493.75,387.39 494.25,383.58 494.75,379.32 495.25,374.69 495.75,369.73 496.25,364.50 496.75,359.05 497.25,353.45 497.75,347.75 498.25,342.00 498.75,336.26 499.25,330.59 499.75,325.05 500.25,319.68 500.75,314.55 501.25,309.71 501.75,305.23 502.25,301.14 502.75,297.52 503.25,294.42 503.75,291.89 504.25,289.99 504.75,288.77 505.25,288.30 505.75,288.86 506.25,290.69 506.75,293.68 507.25,297.66 507.75,302.51 508.25,308.07 508.75,314.21 509.25,320.79 509.75,327.66 510.25,334.67 510.75,341.70 511.25,348.58 511.75,355.20 512.25,361.39 512.75,367.02 513.25,371.94 513.75,376.02 514.25,379.11 514.75,381.07 515.25,381.75 515.75,381.22 516.25,379.67 516.75,377.21 517.25,373.93 517.75,369.91 518.25,365.24 518.75,360.03 519.25,354.35 519.75,348.30 520.25,341.98 520.75,335.46 521.25,328.86 521.75,322.24 522.25,315.72 522.75,309.37 523.25,303.29 523.75,297.57 524.25,292.31 524.75,287.58 525.25,283.49 525.75,280.13 526.25,277.58 526.75,275.95 527.25,275.31 527.75,275.81 528.25,277.47 528.75,280.16 529.25,283.75 529.75,288.09 530.25,293.05 530.75,298.48 531.25,304.26 531.75,310.25 532.25,316.30 532.75,322.29 533.25,328.07 533.75,333.50 534.25,338.46 534.75,342.80 535.25,346.39 535.75,349.08 536.25,350.74 536.75,351.24 537.25,350.60 537.75,348.94 538.25,346.39 538.75,343.04 539.25,339.01 539.75,334.40 540.25,329.31 540.75,323.85 541.25,318.13 541.75,312.24 542.25,306.31 542.75,300.42 543.25,294.70 543.75,289.24 544.25,284.15 544.75,279.54 545.25,275.51 545.75,272.16 546.25,269.61 546.75,267.95 547.25,267.31 547.75,267.84 548.25,269.63 548.75,272.60 549.25,276.66 549.75,281.70 550.25,287.65 550.75,294.41 551.25,301.89 551.75,310.00 552.25,318.64 552.75,327.73 553.25,337.17"/>
<circle cx="115.50" cy="357.50" r="4.8" fill="#ff0000"/>
<circle cx="139.50" cy="368.50" r="4.8" fill="#ff0000"/>
<circle cx="154.50" cy="361.50" r="4.8" fill="#ff0000"/>
<circle cx="172.50" cy="328.50" r="4.8" fill="#ff0000"/>
<circle cx="190.50" cy="326.50" r="4.8" fill="#ff0000"/>
<circle cx="210.50" cy="390.50" r="4.8" fill="#ff0000"/>
<circle cx="229.50" cy="364.50" r="4.8" fill="#ff0000"/>
<circle cx="243.50" cy="375.50" r="4.8" fill="#ff0000"/>
<circle cx="254.50" cy="364.50" r="4.8" fill="#ff0000"/>
<circle cx="266.50" cy="378.50" r="4.8" fill="#ff0000"/>
<circle cx="284.50" cy="356.50" r="4.8" fill="#ff0000"/>
<circle cx="295.50" cy="377.50" r="4.8" fill="#ff0000"/>
<circle cx="310.50" cy="360.50" r="4.8" fill="#ff0000"/>
<circle cx="322.50" cy="320.50" r="4.8" fill="#ff0000"/>
<circle cx="337.50" cy="340.50" r="4.8" fill="#ff0000"/>
<circle cx="351.50" cy="352.50" r="4.8" fill="#ff0000"/>
<circle cx="365.50" cy="334.50" r="4.8" fill="#ff0000"/>
<circle cx="383.50" cy="325.50" r="4.8" fill="#ff0000"/>
<circle cx="403.50" cy="337.50" r="4.8" fill="#ff0000"/>
<circle cx="426.50" cy="359.50" r="4.8" fill="#ff0000"/>
<circle cx="454.50" cy="326.50" r="4.8" fill="#ff0000"/>
<circle cx="479.50" cy="324.50" r="4.8" fill="#ff0000"/>
<circle cx="505.50" cy="288.50" r="4.8" fill="#ff0000"/>
<circle cx="527.50" cy="275.50" r="4.8" fill="#ff0000"/>
<circle cx="547.50" cy="267.50" r="4.8" fill="#ff0000"/>
<line x1="103.50" x2="103.50" y1="226.50" y2="231.80" stroke="#000" stroke-width="1"/>
<line x1="166.50" x2="166.50" y1="226.50" y2="231.80" stroke="#000" stroke-width="1"/>
<line x1="230.50" x2="230.50" y1="226.50" y2="231.80" stroke="#000" stroke-width="1"/>
<line x1="293.50" x2="293.50" y1="226.50" y2="231.80" stroke="#000" stroke-width="1"/>
<line x1="357.50" x2="357.50" y1="226.50" y2="231.80" stroke="#000" stroke-width="1"/>
<line x1="421.50" x2="421.50" y1="226.50" y2="231.80" stroke="#000" stroke-width="1"/>
<line x1="484.50" x2="484.50" y1="226.50" y2="231.80" stroke="#000" stroke-width="1"/>
<line x1="548.50" x2="548.50" y1="226.50" y2="231.80" stroke="#000" stroke-width="1"/>
<line x1="103.50" x2="103.50" y1="427.50" y2="432.80" stroke="#000" stroke-width="1"/>
<line x1="166.50" x2="166.50" y1="427.50" y2="432.80" stroke="#000" stroke-width="1"/>
<line x1="230.50" x2="230.50" y1="427.50" y2="432.80" stroke="#000" stroke-width="1"/>
<line x1="293.50" x2="293.50" y1="427.50" y2="432.80" stroke="#000" stroke-width="1"/>
<line x1="357.50" x2="357.50" y1="427.50" y2="432.80" stroke="#000" stroke-width="1"/>
<line x1="421.50" x2="421.50" y1="427.50" y2="432.80" stroke="#000" stroke-width="1"/>
<line x1="484.50" x2="484.50" y1="427.50" y2="432.80" stroke="#000" stroke-width="1"/>
<line x1="548.50" x2="548.50" y1="427.50" y2="432.80" stroke="#000" stroke-width="1"/>
<line x1="75.20" x2="80.50" y1="93.50" y2="93.50" stroke="#000" stroke-width="1"/>
<line x1="75.20" x2="80.50" y1="135.50" y2="135.50" stroke="#000" stroke-width="1"/>
<line x1="75.20" x2="80.50" y1="178.50" y2="178.50" stroke="#000" stroke-width="1"/>
<line x1="75.20" x2="80.50" y1="220.50" y2="220.50" stroke="#000" stroke-width="1"/>
<line x1="75.20" x2="80.50" y1="281.50" y2="281.50" stroke="#000" stroke-width="1"/>
<line x1="75.20" x2="80.50" y1="314.50" y2="314.50" stroke="#000" stroke-width="1"/>
<line x1="75.20" x2="80.50" y1="347.50" y2="347.50" stroke="#000" stroke-width="1"/>
<line x1="75.20" x2="80.50" y1="380.50" y2="380.50" stroke="#000" stroke-width="1"/>
<line x1="75.20" x2="80.50" y1="413.50" y2="413.50" stroke="#000" stroke-width="1"/>
<rect x="80.5" y="58.5" width="496" height="168" fill="none" stroke="#000" stroke-width="1"/>
<rect x="80.5" y="259.5" width="496" height="168" fill="none" stroke="#000" stroke-width="1"/>
</svg>
<svg width="640" height="480" viewBox="0 0 640 480" style="position:absolute;left:0;top:0;filter:grayscale(1)" font-family="Liberation Sans, sans-serif" fill="#000">
<text x="103.30" y="245.40" font-size="14.8" text-anchor="middle" textLength="8.48" lengthAdjust="spacingAndGlyphs">0</text>
<text x="166.30" y="245.40" font-size="14.8" text-anchor="middle" textLength="25.44" lengthAdjust="spacingAndGlyphs">200</text>
<text x="230.30" y="245.40" font-size="14.8" text-anchor="middle" textLength="25.44" lengthAdjust="spacingAndGlyphs">400</text>
<text x="293.30" y="245.40" font-size="14.8" text-anchor="middle" textLength="25.44" lengthAdjust="spacingAndGlyphs">600</text>
<text x="357.30" y="245.40" font-size="14.8" text-anchor="middle" textLength="25.44" lengthAdjust="spacingAndGlyphs">800</text>
<text x="421.30" y="245.40" font-size="14.8" text-anchor="middle" textLength="33.92" lengthAdjust="spacingAndGlyphs">1000</text>
<text x="484.30" y="245.40" font-size="14.8" text-anchor="middle" textLength="33.92" lengthAdjust="spacingAndGlyphs">1200</text>
<text x="548.30" y="245.40" font-size="14.8" text-anchor="middle" textLength="33.92" lengthAdjust="spacingAndGlyphs">1400</text>
<text x="103.30" y="448.00" font-size="14.8" text-anchor="middle" textLength="8.48" lengthAdjust="spacingAndGlyphs">0</text>
<text x="166.30" y="448.00" font-size="14.8" text-anchor="middle" textLength="25.44" lengthAdjust="spacingAndGlyphs">200</text>
<text x="230.30" y="448.00" font-size="14.8" text-anchor="middle" textLength="25.44" lengthAdjust="spacingAndGlyphs">400</text>
<text x="293.30" y="448.00" font-size="14.8" text-anchor="middle" textLength="25.44" lengthAdjust="spacingAndGlyphs">600</text>
<text x="357.30" y="448.00" font-size="14.8" text-anchor="middle" textLength="25.44" lengthAdjust="spacingAndGlyphs">800</text>
<text x="421.30" y="448.00" font-size="14.8" text-anchor="middle" textLength="33.92" lengthAdjust="spacingAndGlyphs">1000</text>
<text x="484.30" y="448.00" font-size="14.8" text-anchor="middle" textLength="33.92" lengthAdjust="spacingAndGlyphs">1200</text>
<text x="548.30" y="448.00" font-size="14.8" text-anchor="middle" textLength="33.92" lengthAdjust="spacingAndGlyphs">1400</text>
<text x="69.70" y="97.90" font-size="14.8" text-anchor="end" textLength="55.52" lengthAdjust="spacingAndGlyphs">0.00837</text>
<text x="69.70" y="139.90" font-size="14.8" text-anchor="end" textLength="55.52" lengthAdjust="spacingAndGlyphs">0.00836</text>
<text x="69.70" y="182.90" font-size="14.8" text-anchor="end" textLength="55.52" lengthAdjust="spacingAndGlyphs">0.00835</text>
<text x="69.70" y="224.90" font-size="14.8" text-anchor="end" textLength="55.52" lengthAdjust="spacingAndGlyphs">0.00834</text>
<text x="69.70" y="285.90" font-size="14.8" text-anchor="end" textLength="64.06" lengthAdjust="spacingAndGlyphs">0.008375</text>
<text x="69.70" y="318.90" font-size="14.8" text-anchor="end" textLength="64.06" lengthAdjust="spacingAndGlyphs">0.008370</text>
<text x="69.70" y="351.90" font-size="14.8" text-anchor="end" textLength="64.06" lengthAdjust="spacingAndGlyphs">0.008365</text>
<text x="69.70" y="384.90" font-size="14.8" text-anchor="end" textLength="64.06" lengthAdjust="spacingAndGlyphs">0.008360</text>
<text x="69.70" y="417.90" font-size="14.8" text-anchor="end" textLength="64.06" lengthAdjust="spacingAndGlyphs">0.008355</text>
<text x="328.3" y="49.0" font-size="18.8" text-anchor="middle" textLength="66.55" lengthAdjust="spacingAndGlyphs">sum(|z|)</text>
<text x="327.8" y="250.5" font-size="18.8" text-anchor="middle" textLength="133.10" lengthAdjust="spacingAndGlyphs">filtered sum(|z|)</text>
</svg>
</body></html>
